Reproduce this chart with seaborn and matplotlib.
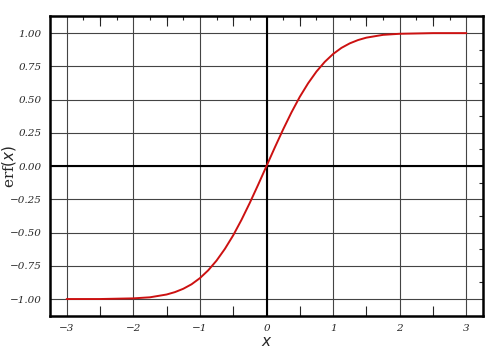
import numpy as np
import pandas as pd
import seaborn as sns
import matplotlib
matplotlib.use("Agg")
import matplotlib.pyplot as plt
from matplotlib.ticker import MultipleLocator

# values
x_vals = [-3.0, -2.5, -2.0, -1.75, -1.5, -1.375, -1.25, -1.125, -1.0, -0.875,
          -0.75, -0.625, -0.5, -0.375, -0.25, -0.125, 0.0, 0.125, 0.25, 0.375,
          0.5, 0.625, 0.75, 0.875, 1.0, 1.125, 1.25, 1.375, 1.5, 1.75, 2.0, 2.5, 3.0]
erf_vals = [-1.0, -1.0, -0.995, -0.987, -0.966, -0.948, -0.923, -0.889, -0.843, -0.784,
            -0.711, -0.623, -0.521, -0.404, -0.276, -0.140, 0.0, 0.140, 0.276, 0.404,
            0.521, 0.623, 0.711, 0.784, 0.843, 0.889, 0.923, 0.948, 0.966, 0.987, 0.995, 1.0, 1.0]

df = pd.DataFrame({"x": x_vals, "erf": erf_vals})

sns.set_style("white")
plt.rcParams["font.family"] = ["DejaVu Serif"]

fig = plt.figure(figsize=(5, 3.5), dpi=100)
ax = fig.add_axes([0.1, 0.097, 0.866, 0.857])

ax.grid(True, which="major", color="#444444", linewidth=0.8)
ax.axhline(0, color="black", linewidth=1.5, zorder=1.5)
ax.axvline(0, color="black", linewidth=1.5, zorder=1.5)

sns.lineplot(data=df, x="x", y="erf", ax=ax, color="#cc1111", linewidth=1.4, zorder=3)

ax.set_xlim(-3.25, 3.25)
ax.set_ylim(-1.128, 1.128)
ax.xaxis.set_minor_locator(MultipleLocator(0.25))
ax.yaxis.set_minor_locator(MultipleLocator(0.125))
yt = np.arange(-1, 1.01, 0.25)
ax.set_yticks(yt)
ax.set_yticklabels([f"{v:.2f}".replace("-", "\u2212") for v in yt])
ax.set_xticks(np.arange(-3, 4, 1))
ax.set_xticklabels([f"{v}".replace("-", "\u2212") for v in range(-3, 4)])

ax.tick_params(which="both", direction="in", top=True, right=True, labelsize=7.5, pad=6)
ax.tick_params(which="major", length=0)
ax.tick_params(which="minor", length=3, width=0.8)
for lab in ax.get_xticklabels() + ax.get_yticklabels():
    lab.set_fontstyle("italic")

# longer half-step ticks on the x axis
for loc in ["bottom", "top"]:
    sec = ax.secondary_xaxis(loc)
    sec.set_xticks(np.arange(-2.5, 3.0, 1.0))
    sec.set_xticklabels([])
    sec.tick_params(direction="in", length=7, width=0.8)
    sec.spines[loc].set_visible(False)

for s in ax.spines.values():
    s.set_color("black")
    s.set_linewidth(1.8)

ax.set_xlabel("$x$", fontsize=11)
ax.set_ylabel("erf$(x)$", fontsize=11)
ax.xaxis.set_label_coords(0.5, -0.062)
ax.yaxis.set_label_coords(-0.073, 0.5)

fig.savefig("out.png", dpi=100)
